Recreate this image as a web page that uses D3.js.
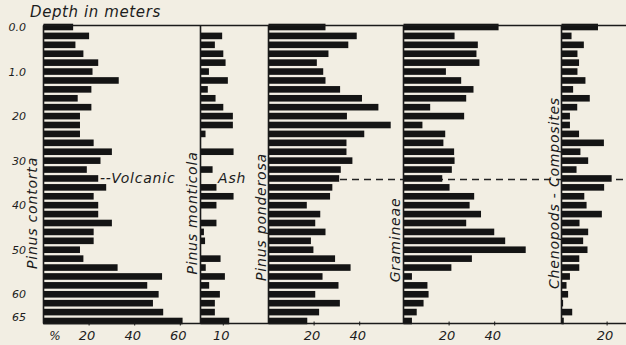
<!DOCTYPE html>
<html>
  <head>
    <meta charset="utf-8">
    <title>Pollen profile</title>
    <script src="https://d3js.org/d3.v7.min.js"></script>
    <style>
      body { margin: 0; background: #f2eee3; }
      svg { display: block; }
      text { font-family: "DejaVu Sans", sans-serif; font-style: italic; fill: #1c1c1c; }
    </style>
  </head>
  <body>
    <div id="chart"></div>
    <script>
      // sample depths (m), top to bottom
      const depths = [0.0, 0.2, 0.4, 0.6, 0.8, 1.0, 1.2, 1.4, 1.6, 1.8, 2.0, 2.2, 2.4, 2.6, 2.8, 3.0, 3.2,
                      3.4, 3.6, 3.8, 4.0, 4.2, 4.4, 4.6, 4.8, 5.0, 5.2, 5.4, 5.6, 5.8, 6.0, 6.2, 6.4, 6.6];
      // pollen percentages per sample
      const pinusContorta = [13, 20, 14, 17.5, 24, 21.5, 33, 21, 15, 21, 16, 16, 16, 22, 30, 25, 19,
                             24, 27.5, 22, 24, 24, 30, 22, 22, 16, 17.5, 32.5, 52, 45.5, 50.5, 48, 52.5, 61];
      const pinusMonticola = [0, 9.5, 6.3, 10, 11, 3.7, 12, 3.2, 6.6, 10, 14.2, 14.2, 2.2, 0, 14.5, 0, 5.3,
                              0, 7, 14.5, 7, 0, 7, 1.5, 2, 0, 8.8, 2.3, 10.7, 3.8, 8.5, 6.3, 6.3, 12.6];
      const pinusPonderosa = [25, 38.7, 35, 26.3, 21.2, 24, 25, 31.4, 41, 48.2, 34.4, 53.6, 42, 34.2, 34.2, 36.8, 31.7,
                              31, 28, 27, 16.8, 22.7, 20.5, 25, 18.6, 19.7, 29.2, 36, 23.7, 30.7, 20.5, 31.3, 22.2, 17];
      const gramineae = [41.7, 22.4, 32.6, 32, 33.3, 18.6, 25.3, 30.7, 27.5, 11.7, 26.6, 8.3, 18.3, 17.5, 22.2, 22.4, 21.2,
                         17, 20.2, 31, 29, 34, 27.5, 39.8, 44.6, 53.6, 30, 21, 3.7, 10.5, 11, 8.8, 5.8, 3.7];
      const chenopodsComposites = [16, 4.4, 9.8, 7, 7.7, 7, 10.5, 5.1, 12.4, 6.9, 3.7, 3.7, 7.7, 18.6, 8.3, 11.7, 6.6,
                                   22, 18.7, 10, 11, 17.7, 7.9, 11.7, 9.5, 11.4, 7.8, 7.8, 3.7, 2.2, 2.9, 0.7, 4.7, 1];
      // axis ticks
      const depthTicks = [0, 1, 2, 3, 4, 5, 6, 6.5];
      const depthTickLabels = ["0.0", "1.0", "20", "30", "40", "50", "60", "65"];
      const volcanicAshDepth = 3.4;

      const width = 626, height = 345;
      const plotTop = 25.5, plotBottom = 323.5;
      const pxPerPercent = 2.28;

      // panels: left edge, ticks, label spot
      const panels = [
        { name: "Pinus contorta", values: pinusContorta, x0: 43.5, ticks: [20, 40, 60], lx: 37, ly: 213 },
        { name: "Pinus monticola", values: pinusMonticola, x0: 200.5, ticks: [10], lx: 197, ly: 213 },
        { name: "Pinus ponderosa", values: pinusPonderosa, x0: 268.5, ticks: [20, 40], lx: 266, ly: 217 },
        { name: "Gramineae", values: gramineae, x0: 403.5, ticks: [20, 40], lx: 400, ly: 240 },
        { name: "Chenopods - Composites", values: chenopodsComposites, x0: 561.5, ticks: [20], lx: 559, ly: 193 }
      ];

      const svg = d3.select("#chart")
        .append("svg")
        .attr("width", width)
        .attr("height", height);

      const y = d3.scaleLinear()
        .domain([0, 6.6])
        .range([27, 321]);

      // title
      svg.append("text")
        .attr("x", 30)
        .attr("y", 17)
        .style("font-size", "15px")
        .style("letter-spacing", "0.6px")
        .text("Depth in meters");

      // depth labels
      svg.selectAll(".depthLabel")
        .data(depthTicks)
        .enter().append("text")
          .attr("class", "depthLabel")
          .attr("x", 26)
          .attr("y", function(d) { return y(d) + 4; })
          .attr("text-anchor", "end")
          .style("font-size", "11px")
          .text(function(d, i) { return depthTickLabels[i]; });

      // volcanic ash dashed line (behind bars)
      svg.append("line")
        .attr("x1", 268)
        .attr("x2", width)
        .attr("y1", y(volcanicAshDepth) + 1)
        .attr("y2", y(volcanicAshDepth) + 1)
        .attr("stroke", "#222")
        .attr("stroke-width", 1.4)
        .attr("stroke-dasharray", "7,5");

      panels.forEach(function(p) {
        const x = d3.scaleLinear()
          .domain([0, 100])
          .range([p.x0, p.x0 + 100 * pxPerPercent]);
        const g = svg.append("g");
        // bars
        g.selectAll("rect")
          .data(p.values)
          .enter().append("rect")
            .attr("x", p.x0)
            .attr("y", function(d, i) { return y(depths[i]) - 3.3; })
            .attr("width", function(d) { return x(d) - p.x0; })
            .attr("height", 6.6)
            .attr("fill", "#141414");
        // left border
        g.append("line")
          .attr("x1", p.x0).attr("x2", p.x0)
          .attr("y1", plotTop).attr("y2", plotBottom)
          .attr("stroke", "#1a1a1a")
          .attr("stroke-width", 1.6);
        // ticks
        g.selectAll(".tick")
          .data(p.ticks)
          .enter().append("line")
            .attr("x1", x).attr("x2", x)
            .attr("y1", plotBottom - 2).attr("y2", plotBottom + 2)
            .attr("stroke", "#1a1a1a");
        g.selectAll(".tickLabel")
          .data(p.ticks)
          .enter().append("text")
            .attr("x", function(d) { return x(d) - 2; })
            .attr("y", 340)
            .attr("text-anchor", "middle")
            .style("font-size", "13px")
            .text(function(d) { return d; });
        // rotated name
        g.append("text")
          .attr("transform", "translate(" + p.lx + "," + p.ly + ") rotate(-90)")
          .attr("text-anchor", "middle")
          .style("font-size", "14px")
          .style("letter-spacing", "0.8px")
          .text(p.name);
      });

      // frame top and bottom
      svg.append("line")
        .attr("x1", 43).attr("x2", width)
        .attr("y1", plotTop).attr("y2", plotTop)
        .attr("stroke", "#1a1a1a").attr("stroke-width", 1.6);
      svg.append("line")
        .attr("x1", 43).attr("x2", width)
        .attr("y1", plotBottom).attr("y2", plotBottom)
        .attr("stroke", "#1a1a1a").attr("stroke-width", 1.6);

      // percent sign and volcanic ash annotation
      svg.append("text")
        .attr("x", 55).attr("y", 340)
        .attr("text-anchor", "middle")
        .style("font-size", "12px")
        .text("%");
      svg.append("text")
        .attr("x", 100).attr("y", y(volcanicAshDepth) + 5)
        .style("font-size", "14px")
        .style("letter-spacing", "0.8px")
        .text("--Volcanic");
      svg.append("text")
        .attr("x", 218).attr("y", y(volcanicAshDepth) + 5)
        .style("font-size", "14px")
        .style("letter-spacing", "0.8px")
        .text("Ash");
    </script>
  </body>
</html>
